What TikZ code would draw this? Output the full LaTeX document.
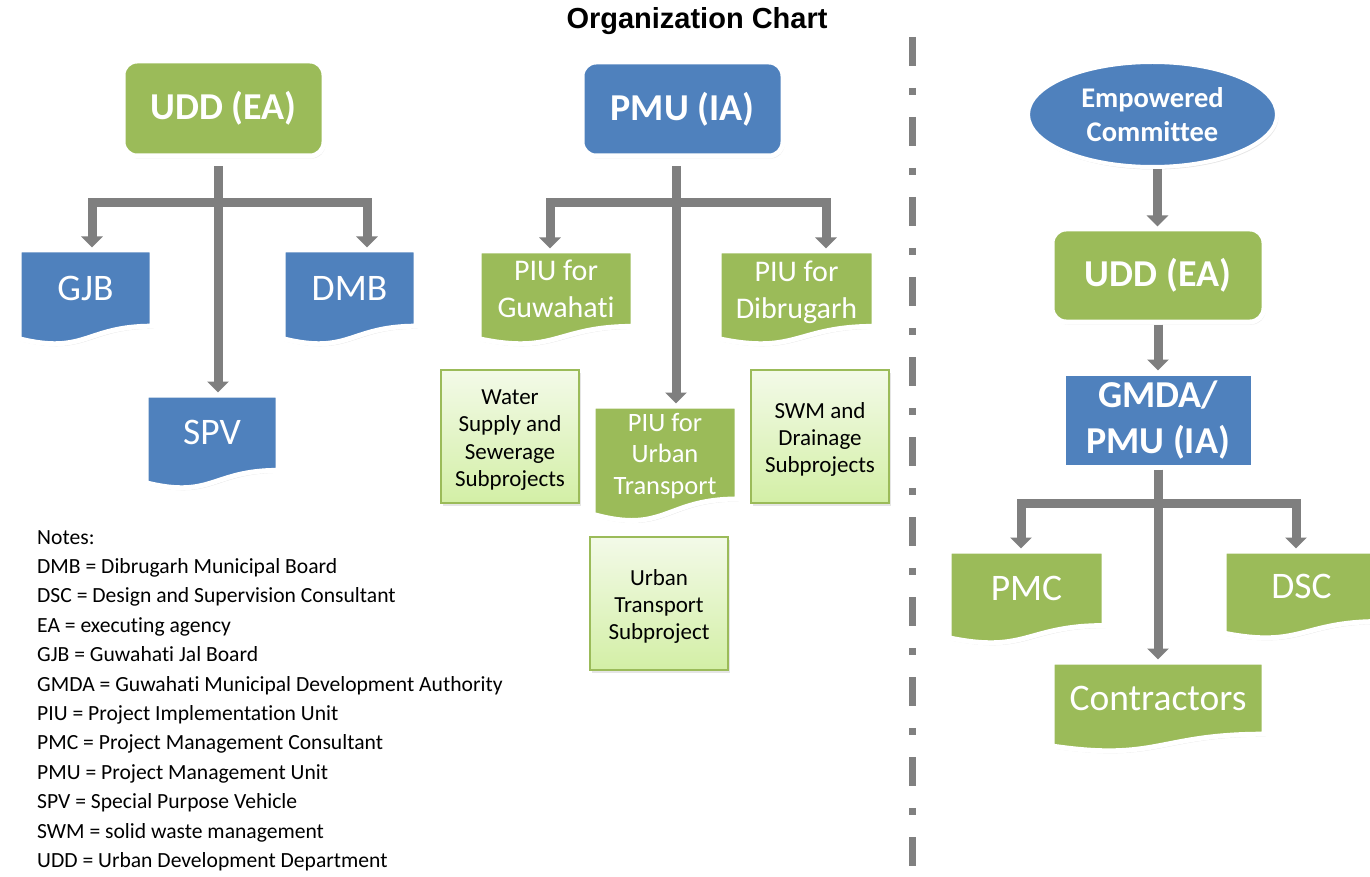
\documentclass[tikz,border=0pt]{standalone}
\usepackage{fontspec}
\setmainfont[Ligatures={NoCommon}]{Carlito}
\newfontfamily\titlefont{Liberation Sans}
\usetikzlibrary{arrows.meta,shapes.geometric,shadows}
\definecolor{ogreen}{HTML}{9BBB59}
\definecolor{oblue}{HTML}{4F81BD}
\definecolor{agray}{HTML}{7F7F7F}
\definecolor{sepgray}{HTML}{808080}
\definecolor{lgtop}{HTML}{F3FAE8}
\definecolor{lgbot}{HTML}{D3EFA6}
\newcommand\lift[1]{\rule{0pt}{#1pt}}
\tikzset{
  shad/.style={drop shadow={opacity=0.2, shadow xshift=1.5pt, shadow yshift=-2.5pt}},
  rbox/.style={shad, rounded corners=14pt, draw=white, line width=5pt, text=white,
    inner sep=0pt, font=\bfseries\fontsize{38}{44}\selectfont},
  sbox/.style={shad, draw=white, line width=5pt, text=white, inner sep=0pt, align=center,
    font=\bfseries\fontsize{38}{46}\selectfont},
  ebox/.style={shad, ellipse, draw=white, line width=4pt, fill=oblue, text=white, inner sep=0pt,
    align=center, font=\bfseries\fontsize{28.5}{34}\selectfont},
  docsh/.style={shad, draw=white, line width=5pt},
  doctext/.style={inner sep=0pt, outer sep=2.5pt, text=white, align=center},
  bigtxt/.style={font=\fontsize{37.5}{44}\selectfont},
  midtxt/.style={font=\fontsize{30}{37}\selectfont},
  smtxt/.style={font=\fontsize{26.5}{31.5}\selectfont},
  lbox/.style={shad, top color=lgtop, bottom color=lgbot, draw=ogreen, line width=1.8pt,
    inner sep=0pt, align=center, text=black, font=\fontsize{23}{27.3}\selectfont},
  conn/.style={draw=agray, line width=9pt},
  arr/.style={conn, -{Triangle[width=21pt,length=11pt]}},
  sepline/.style={draw=sepgray, line width=7pt, dash pattern=on 29pt off 22pt on 7pt off 22pt},
  note/.style={anchor=base west, inner sep=0pt, font=\fontsize{21.6}{29.4}\selectfont}
}
% #1 name, #2 left, #3 top, #4 width, #5 full height, #6 fill, #7 text style, #8 text
\newcommand\docbox[8]{%
  \pgfmathsetmacro\dR{#2+#4}%
  \pgfmathsetmacro\dM{#2+0.5*#4}%
  \pgfmathsetmacro\dA{#3+0.802*#5}%
  \pgfmathsetmacro\dB{#3+1.107*#5}%
  \pgfmathsetmacro\dC{#3+0.934*#5}%
  \pgfmathsetmacro\dT{#3+0.401*#5}%
  \pgfmathsetmacro\dH{0.802*#5}%
  \path[docsh, fill=#6] (#2,#3) -- (\dR,#3) -- (\dR,\dA)
     .. controls (\dM,\dA) and (\dM,\dB) .. (#2,\dC) -- cycle;
  \node[doctext, #7, minimum width=#4pt, minimum height=\dH pt] (#1) at (\dM,\dT) {#8};
}
\begin{document}
\begin{tikzpicture}[x=1pt,y=-1pt]
\useasboundingbox (0,0) rectangle (1370,877);
\fill[white] (0,0) rectangle (1370,877);

% title
\node[anchor=base, inner sep=0pt, font=\titlefont\bfseries\fontsize{29}{34}\selectfont] (title) at (697,29) {Organization Chart};

% separator
\draw[sepline] (912,37) -- (912,877);

% ---------- left tree ----------
\node[rbox, fill=ogreen, minimum width=201pt, minimum height=95pt] (udd1) at (223.5,108.5) {UDD (EA)};
\docbox{gjb}{19}{250}{133}{95}{oblue}{bigtxt}{GJB}
\docbox{dmb}{283}{250}{133}{95}{oblue}{bigtxt}{DMB}
\docbox{spv}{146}{395}{132}{94}{oblue}{bigtxt}{SPV}

\coordinate (lb1) at (92,203);
\coordinate (lb2) at (367,203);
\coordinate (lbm) at (218,203);
\draw[conn, line cap=rect] (lb1) -- (lb2);
\draw[arr] (lb1) -- (lb1 |- gjb.north);
\draw[arr] (lb2) -- (lb2 |- dmb.north);
\draw[arr, shorten <=8pt] (lbm |- udd1.south) -- (lbm |- spv.north);

% ---------- middle tree ----------
\node[rbox, fill=oblue, minimum width=201pt, minimum height=94pt] (pmu) at (682.5,109) {PMU (IA)};
\docbox{piug}{479}{251}{154}{94}{ogreen}{midtxt}{PIU for\\Guwahati}
\docbox{piud}{719}{251}{155}{94}{ogreen}{midtxt}{\lift{27}PIU for\\Dibrugarh}
\docbox{piut}{593}{406}{144}{116}{ogreen}{smtxt}{\lift{25}PIU for\\Urban\\Transport}

\node[lbox, minimum width=138pt, minimum height=133pt] (wss) at (510,436.5) {\lift{22}Water\\Supply and\\Sewerage\\Subprojects};
\node[lbox, minimum width=138pt, minimum height=133pt] (swm) at (820,436.5) {\lift{22}SWM and\\Drainage\\Subprojects};
\node[lbox, minimum width=138pt, minimum height=133pt] (utsp) at (659,603.5) {\lift{22}Urban\\Transport\\Subproject};

\coordinate (mb1) at (550,203);
\coordinate (mb2) at (826,203);
\coordinate (mbm) at (676,203);
\draw[conn, line cap=rect] (mb1) -- (mb2);
\draw[arr] (mb1) -- (mb1 |- piug.north);
\draw[arr] (mb2) -- (mb2 |- piud.north);
\draw[arr, shorten <=8pt] (mbm |- pmu.south) -- (mbm |- piut.north);

% ---------- right tree ----------
\node[ebox, minimum width=249pt, minimum height=105pt] (emp) at (1152.5,114.5) {Empowered\\Committee};
\node[rbox, fill=ogreen, minimum width=212pt, minimum height=93pt] (udd2) at (1158,275.5) {UDD (EA)};
\node[sbox, fill=oblue, minimum width=190pt, minimum height=94pt] (gmda) at (1158,420) {GMDA/\\PMU (IA)};
\docbox{pmc}{949}{551}{155}{93}{ogreen}{bigtxt}{PMC}
\docbox{dsc}{1224}{551}{155}{88}{ogreen}{bigtxt}{DSC}
\docbox{contr}{1052}{662}{212}{90}{ogreen}{bigtxt}{Contractors}

\coordinate (rx) at (1157.5,0);
\draw[arr] (rx |- emp.south) -- (rx |- udd2.north);
\draw[arr] (udd2.south) -- (gmda.north);
\coordinate (rb1) at (1021,503);
\coordinate (rb2) at (1296,503);
\draw[conn, line cap=rect] (rb1) -- (rb2);
\draw[arr] (rb1) -- (rb1 |- pmc.north);
\draw[arr] (rb2) -- (rb2 |- dsc.north);
\draw[arr] (gmda.south) -- (contr.north);

% ---------- notes ----------
\foreach \t [count=\i] in {Notes:,
  DMB = Dibrugarh Municipal Board,
  DSC = Design and Supervision Consultant,
  EA = executing agency,
  GJB = Guwahati Jal Board,
  GMDA = Guwahati Municipal Development Authority,
  PIU = Project Implementation Unit,
  PMC = Project Management Consultant,
  PMU = Project Management Unit,
  SPV = Special Purpose Vehicle,
  SWM = solid waste management,
  UDD = Urban Development Department}
  \node[note] (note\i) at (37,{544+(\i-1)*29.4}) {\t};
\end{tikzpicture}
\end{document}
